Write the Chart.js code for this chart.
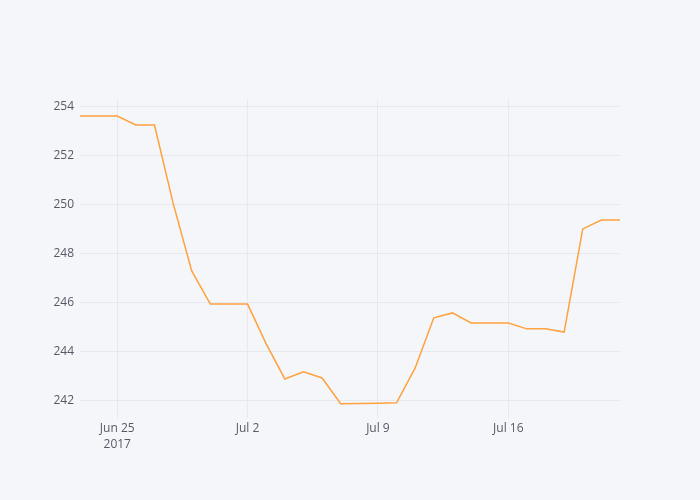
<!DOCTYPE html>
<html>
<head>
<meta charset="utf-8">
<script src="https://cdn.jsdelivr.net/npm/chart.js@4"></script>
<style>
  html, body { margin: 0; padding: 0; background: #f5f6fa; }
  #wrap { width: 700px; height: 500px; }
</style>
</head>
<body>
<div id="wrap"><canvas id="lineChart" width="700" height="500"></canvas></div>
<script>
// days counted from Jun 23 2017
const days = [0,1,2,3,4,5,6,7,8,9,10,11,12,13,14,15,16,17,18,19,20,21,22,23,24,25,26,27,28,29];
const values = [253.6, 253.6, 253.6, 253.23, 253.23, 250.05, 247.29, 245.94, 245.94, 245.94,
                244.32, 242.89, 243.18, 242.93, 241.88, 241.89, 241.9, 241.92, 243.34, 245.38,
                245.58, 245.17, 245.17, 245.17, 244.93, 244.93, 244.8, 249.0, 249.36, 249.36];
const xTicks = [2, 9, 16, 23];
const xTickLabels = [['Jun 25', '2017'], 'Jul 2', 'Jul 9', 'Jul 16'];
const yTicks = [242, 244, 246, 248, 250, 252, 254];

const bgPlugin = {
    id: 'bg',
    beforeDraw: (chart) => {
        const ctx = chart.ctx;
        ctx.save();
        ctx.fillStyle = '#f5f6fa';
        ctx.fillRect(0, 0, chart.width, chart.height);
        ctx.restore();
    }
};

const ctx = document.getElementById('lineChart');
new Chart(ctx, {
    type: 'line',
    data: {
        datasets: [{
            data: days.map((d, i) => ({ x: d, y: values[i] })),
            borderColor: '#ffa13d',
            borderWidth: 1.5,
            pointRadius: 0,
            fill: false,
            tension: 0
        }]
    },
    options: {
        responsive: false,
        animation: false,
        layout: { padding: { left: 0, right: 80, top: 100, bottom: 0 } },
        plugins: { legend: { display: false }, tooltip: { enabled: false } },
        scales: {
            x: {
                type: 'linear',
                min: 0,
                max: 29,
                afterBuildTicks: (axis) => { axis.ticks = xTicks.map(v => ({ value: v })); },
                afterFit: (axis) => { axis.height = 82; },
                ticks: {
                    color: '#555a66',
                    font: { family: 'Open Sans', size: 12, lineHeight: 1.35 },
                    maxRotation: 0,
                    padding: 2,
                    callback: (v) => xTickLabels[xTicks.indexOf(v)]
                },
                grid: { color: '#e6e9ef', drawTicks: false },
                border: { display: false }
            },
            y: {
                min: 241.3,
                max: 254.25,
                afterBuildTicks: (axis) => { axis.ticks = yTicks.map(v => ({ value: v })); },
                afterFit: (axis) => { axis.width = 80; },
                ticks: {
                    color: '#555a66',
                    font: { family: 'Open Sans', size: 12 },
                    padding: 6
                },
                grid: { color: '#e6e9ef', drawTicks: false },
                border: { display: false }
            }
        }
    },
    plugins: [bgPlugin]
});
</script>
</body>
</html>
